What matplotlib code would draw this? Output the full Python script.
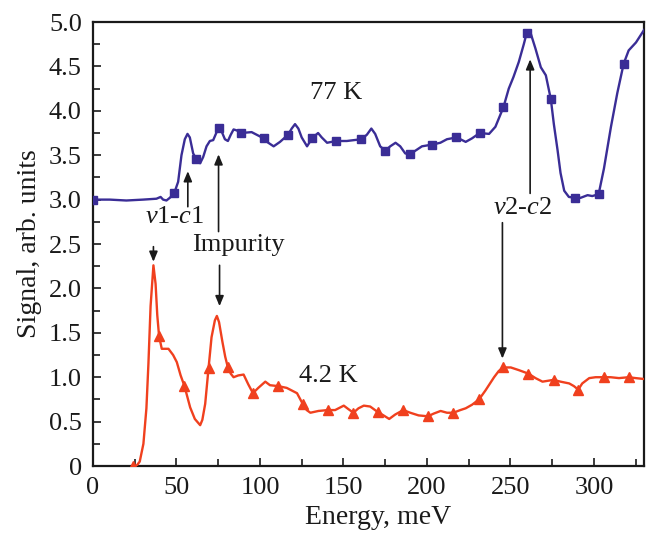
import matplotlib
matplotlib.use("Agg")
import matplotlib.pyplot as plt
from matplotlib.ticker import MultipleLocator, FuncFormatter

# ---------------- data ----------------
# 77 K curve (line trace)
k77_x = [0, 10, 20, 30, 38, 40.5, 42, 44, 46, 48.6, 51, 53, 55, 56.6, 58, 60, 61.8, 64.2, 66, 68,
         70, 72, 75.2, 77, 79, 80.8, 82.5, 84.2, 86, 88.8, 95, 102.2, 105, 108.2, 112, 116.8, 119,
         121, 123, 125, 128.2, 131.2, 134.8, 137, 140.2, 145.5, 152, 160.7, 164, 166.7, 169, 172,
         175.1, 178, 181.2, 184, 187, 189.6, 193, 197, 203.2, 208, 212, 217.6, 220, 223.2, 227,
         231.6, 237.2, 241, 245.8, 249, 251.8, 255, 258, 259.8, 262, 265, 268.2, 271.2, 274.2,
         276, 278.2, 280, 282.2, 285, 288.8, 292, 296.2, 299, 302.8, 306, 310.2, 314, 317.8,
         320.8, 325.2, 330]
k77_y = [3.0, 3.0, 2.99, 3.0, 3.01, 3.03, 3.0, 2.99, 3.02, 3.07, 3.2, 3.5, 3.68, 3.74, 3.70, 3.52,
         3.46, 3.41, 3.48, 3.6, 3.66, 3.67, 3.81, 3.77, 3.68, 3.66, 3.73, 3.79, 3.78, 3.75, 3.76,
         3.69, 3.64, 3.60, 3.65, 3.73, 3.80, 3.85, 3.80, 3.70, 3.60, 3.69, 3.75, 3.70, 3.64, 3.66,
         3.66, 3.68, 3.73, 3.80, 3.74, 3.60, 3.55, 3.60, 3.64, 3.60, 3.52, 3.51, 3.55, 3.60, 3.62,
         3.64, 3.68, 3.70, 3.68, 3.65, 3.69, 3.75, 3.74, 3.82, 4.04, 4.25, 4.38, 4.55, 4.75, 4.88,
         4.88, 4.70, 4.49, 4.40, 4.13, 3.85, 3.56, 3.30, 3.10, 3.03, 3.02, 3.02, 3.05, 3.04, 3.06,
         3.35, 3.82, 4.20, 4.53, 4.68, 4.77, 4.91]
# 77 K markers
k77_mx = [0, 48.6, 61.8, 75.2, 88.8, 102.2, 116.8, 131.2, 145.5, 160.7, 175.1, 189.6, 203.2,
          217.6, 231.6, 245.8, 259.8, 274.2, 288.8, 302.8, 317.8]
k77_my = [3.0, 3.07, 3.46, 3.81, 3.75, 3.69, 3.73, 3.69, 3.66, 3.68, 3.55, 3.51, 3.62, 3.70,
          3.75, 4.04, 4.88, 4.13, 3.02, 3.06, 4.53]

# 4.2 K curve (line trace)
k42_x = [26, 28, 30.2, 32, 33.2, 34.5, 36.2, 37.5, 38.5, 39.6, 41.2, 45.2, 48, 50.2, 52.5, 54.8,
         56.5, 58.2, 61, 64.2, 65.5, 67.2, 69.2, 71, 73, 74.2, 75.5, 77.5, 79.2, 80.8, 82.5, 84.2,
         87, 90.2, 93, 95.8, 99, 103.2, 106, 110.8, 116, 122.2, 125.6, 128, 130.2, 135, 140.6, 145,
         150.2, 153, 156, 159, 162.2, 166, 170.4, 174, 177.4, 181, 185.8, 190, 195, 200.6, 204,
         208.2, 212, 215.8, 220, 223.2, 227, 231.2, 235, 240.2, 243, 245.8, 250.2, 255, 260.8, 265,
         269.2, 275.8, 280, 285.2, 288, 290.6, 293, 297.2, 301, 305.8, 310, 315, 320.8, 325, 330]
k42_y = [0.0, 0.05, 0.25, 0.65, 1.15, 1.8, 2.26, 2.05, 1.7, 1.46, 1.32, 1.32, 1.25, 1.17, 1.02,
         0.90, 0.78, 0.66, 0.53, 0.46, 0.52, 0.70, 1.10, 1.45, 1.64, 1.69, 1.62, 1.40, 1.23, 1.11,
         1.04, 1.00, 1.02, 1.03, 0.92, 0.82, 0.88, 0.95, 0.91, 0.90, 0.88, 0.82, 0.70, 0.63, 0.60,
         0.62, 0.63, 0.63, 0.68, 0.64, 0.60, 0.65, 0.68, 0.67, 0.61, 0.57, 0.53, 0.58, 0.63, 0.60,
         0.57, 0.56, 0.59, 0.62, 0.60, 0.60, 0.63, 0.65, 0.69, 0.75, 0.85, 1.00, 1.07, 1.11, 1.11,
         1.08, 1.04, 0.99, 0.95, 0.97, 0.95, 0.93, 0.90, 0.86, 0.93, 0.99, 1.00, 1.00, 1.00, 0.99,
         1.00, 0.99, 0.98]
# 4.2 K markers
k42_mx = [24.2, 39.6, 54.8, 69.2, 80.8, 95.8, 110.8, 125.6, 140.6, 156, 170.4, 185.8, 200.6,
          215.8, 231.2, 245.8, 260.8, 275.8, 290.6, 305.8, 320.8]
k42_my = [0.0, 1.46, 0.90, 1.10, 1.11, 0.82, 0.90, 0.70, 0.63, 0.60, 0.61, 0.63, 0.56, 0.60,
          0.75, 1.11, 1.04, 0.97, 0.86, 1.00, 1.00]

x_ticks = [0, 50, 100, 150, 200, 250, 300]
y_ticks = [0, 0.5, 1.0, 1.5, 2.0, 2.5, 3.0, 3.5, 4.0, 4.5, 5.0]

# ---------------- style ----------------
plt.rcParams['font.family'] = ['Liberation Serif', 'DejaVu Serif']
plt.rcParams['mathtext.fontset'] = 'custom'
plt.rcParams['mathtext.rm'] = 'Liberation Serif'
plt.rcParams['mathtext.it'] = 'Liberation Serif:italic'

BLUE = '#3a2d96'
RED = '#f0401e'
INK = '#1a1a1a'

fig = plt.figure(figsize=(6.47, 5.34), dpi=100)
ax = fig.add_axes([0.1437, 0.1273, 0.8517, 0.8315])

ax.plot(k77_x, k77_y, color=BLUE, lw=1.7, zorder=3, solid_joinstyle='round')
ax.plot(k77_mx, k77_my, ls='none', marker='s', ms=6.3, color=BLUE, zorder=4)
ax.plot(k42_x, k42_y, color=RED, lw=1.7, zorder=3, solid_joinstyle='round')
ax.plot(k42_mx, k42_my, ls='none', marker='^', ms=7.5, color=RED, zorder=4)

ax.set_xlim(0, 330)
ax.set_ylim(0, 5.0)
ax.set_xticks(x_ticks)
ax.set_yticks(y_ticks)
ax.xaxis.set_minor_locator(MultipleLocator(25))
ax.yaxis.set_minor_locator(MultipleLocator(0.25))
ax.yaxis.set_major_formatter(FuncFormatter(lambda v, p: '0' if v == 0 else f'{v:.1f}'))
ax.tick_params(which='both', direction='in', top=False, right=False, width=1.2, colors=INK,
               labelsize=19)
ax.tick_params(which='major', length=6, pad=8)
ax.tick_params(which='minor', length=5)
for s in ax.spines.values():
    s.set_linewidth(1.6)
    s.set_color(INK)

ax.set_xlabel('Energy, meV', fontsize=20, color=INK, labelpad=0)
ax.xaxis.set_label_coords(0.518, -0.088)
ax.set_ylabel('Signal, arb. units', fontsize=20, color=INK, labelpad=5)

# ---------------- annotations ----------------
ax.text(145.8, 4.20, '77 K', fontsize=19, ha='center', va='center', color=INK)
ax.text(141, 1.01, '4.2 K', fontsize=19, ha='center', va='center', color=INK)
ax.text(48.6, 2.80, r'$v$1-$c$1', fontsize=19, ha='center', va='center', color=INK)
ax.text(87, 2.49, 'Impurity', fontsize=19, ha='center', va='center', color=INK)
ax.text(257.4, 2.90, r'$v$2-$c$2', fontsize=19, ha='center', va='center', color=INK)

arrows = [
    ((56.8, 2.92), (56.8, 3.32)),
    ((75.2, 2.64), (75.2, 3.51)),
    ((36.2, 2.47), (36.2, 2.30)),
    ((75.8, 2.26), (75.8, 1.80)),
    ((261.8, 3.07), (261.8, 4.58)),
    ((245.2, 2.74), (245.2, 1.21)),
]
for (tail, head) in arrows:
    ax.annotate('', xy=head, xytext=tail,
                arrowprops=dict(arrowstyle='-|>,head_length=0.6,head_width=0.25',
                                color=INK, lw=1.2, shrinkA=0, shrinkB=0))

fig.savefig('out.png', dpi=100)
